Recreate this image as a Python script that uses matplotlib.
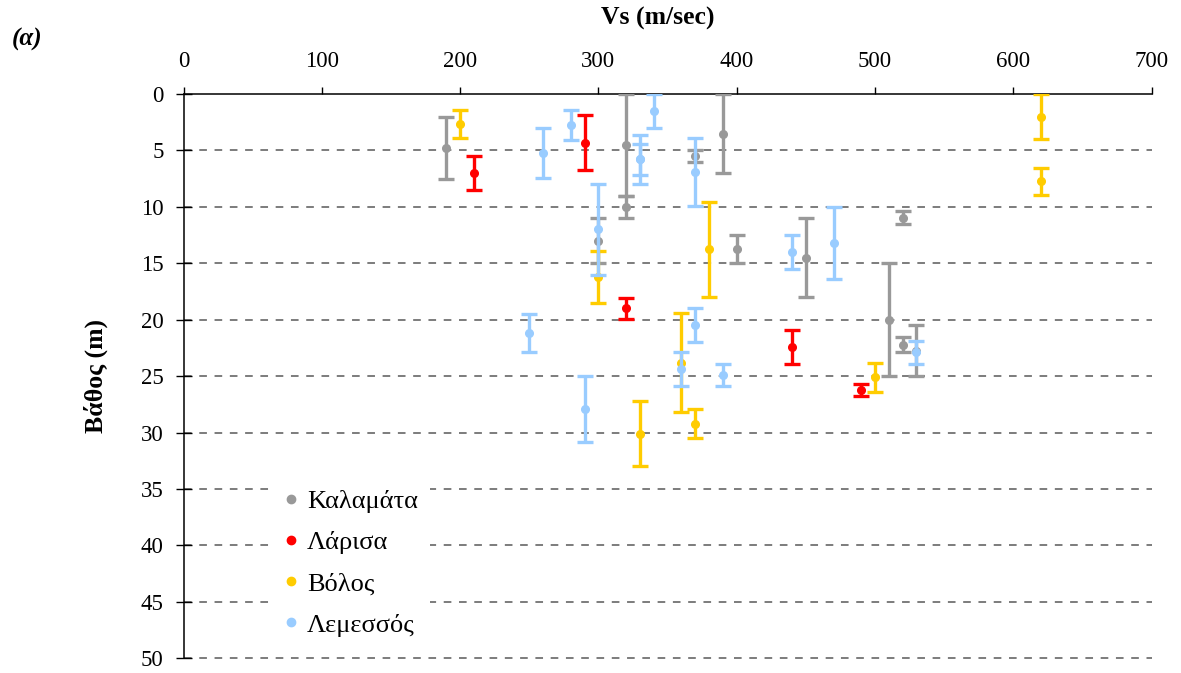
import matplotlib
matplotlib.use("Agg")
import matplotlib.pyplot as plt
from matplotlib.lines import Line2D

plt.rcParams['font.family'] = ['Liberation Serif', 'DejaVu Serif']

# Vs (m/sec), depth (m), half range of depth (m)
kalamata_vs = [190, 300, 320, 320, 370, 390, 400, 450, 510, 520, 520, 530]
kalamata_z = [4.75, 13.0, 4.5, 10.0, 5.5, 3.5, 13.75, 14.5, 20.0, 10.95, 22.2, 22.75]
kalamata_dz = [2.75, 2.0, 4.5, 1.0, 0.5, 3.5, 1.25, 3.5, 5.0, 0.55, 0.7, 2.25]

larisa_vs = [210, 290, 320, 440, 490]
larisa_z = [7.0, 4.3, 19.0, 22.4, 26.25]
larisa_dz = [1.5, 2.4, 0.95, 1.5, 0.55]

volos_vs = [200, 300, 330, 360, 370, 380, 500, 620, 620]
volos_z = [2.65, 16.2, 30.1, 23.8, 29.2, 13.75, 25.1, 2.0, 7.75]
volos_dz = [1.25, 2.3, 2.9, 4.4, 1.3, 4.2, 1.3, 2.0, 1.2]

lemesos_vs = [250, 260, 280, 290, 300, 330, 330, 340, 360, 370, 370, 390, 440, 470, 530]
lemesos_z = [21.2, 5.25, 2.75, 27.9, 12.0, 5.8, 5.8, 1.5, 24.4, 6.9, 20.5, 24.9, 14.0, 13.2, 22.9]
lemesos_dz = [1.7, 2.2, 1.35, 2.9, 4.0, 2.2, 1.35, 1.5, 1.5, 3.0, 1.5, 1.0, 1.5, 3.2, 1.0]

series = [
    ('Καλαμάτα', '#999999', kalamata_vs, kalamata_z, kalamata_dz),
    ('Λάρισα', '#ff0000', larisa_vs, larisa_z, larisa_dz),
    ('Βόλος', '#ffcc00', volos_vs, volos_z, volos_dz),
    ('Λεμεσσός', '#99ccff', lemesos_vs, lemesos_z, lemesos_dz),
]

fig = plt.figure(figsize=(11.81, 6.73), dpi=100)
ax = fig.add_axes([0.1554, 0.0218, 0.8197, 0.8385])

handles = []
for i, (name, col, vs, z, dz) in enumerate(series):
    ax.errorbar(vs, z, yerr=dz, fmt='o', color=col, ecolor=col, ms=5.5,
                elinewidth=2.4, capsize=6, capthick=2.4, zorder=3 + i)
    handles.append(Line2D([], [], ls='none', marker='o', ms=6, color=col, label=name))

ax.set_xlim(0, 700)
ax.set_ylim(50, 0)
ax.set_xticks(range(0, 701, 100))
ax.set_yticks(range(0, 51, 5))

ax.xaxis.tick_top()
ax.xaxis.set_label_position('top')
ax.tick_params(axis='x', direction='out', length=5, width=1, pad=11, labelsize=16.5)
ax.tick_params(axis='y', direction='inout', length=11.5, width=1, pad=8.7, labelsize=16.5)

for s in ['right', 'bottom']:
    ax.spines[s].set_visible(False)
for s in ['top', 'left']:
    ax.spines[s].set_linewidth(1.1)

# depth grid, dashed every 5 m
for d in range(5, 51, 5):
    ax.axhline(d, color='#595959', lw=1.1, ls=(0, (5, 5)), zorder=1, clip_on=False)

ax.set_xlabel('Vs (m/sec)', fontsize=18.5, fontweight='bold', va='center')
ax.xaxis.set_label_coords(0.490, 1.1347)
ax.set_ylabel('Βάθος (m)', fontsize=18.5, fontweight='bold', va='center')
ax.yaxis.set_label_coords(-0.0904, 0.5)

fig.text(0.010, 0.942, '(α)', fontsize=18, fontweight='bold', fontstyle='italic',
         ha='left', va='center')

leg = ax.legend(handles=handles, loc='upper left', bbox_to_anchor=(0.092, 0.320),
                fontsize=19, frameon=True, facecolor='white', edgecolor='none',
                framealpha=1, handlelength=0.5, handletextpad=0.35,
                labelspacing=0.67, borderpad=0.45, borderaxespad=0)
leg.set_zorder(10)

fig.savefig('out.png', dpi=100)
